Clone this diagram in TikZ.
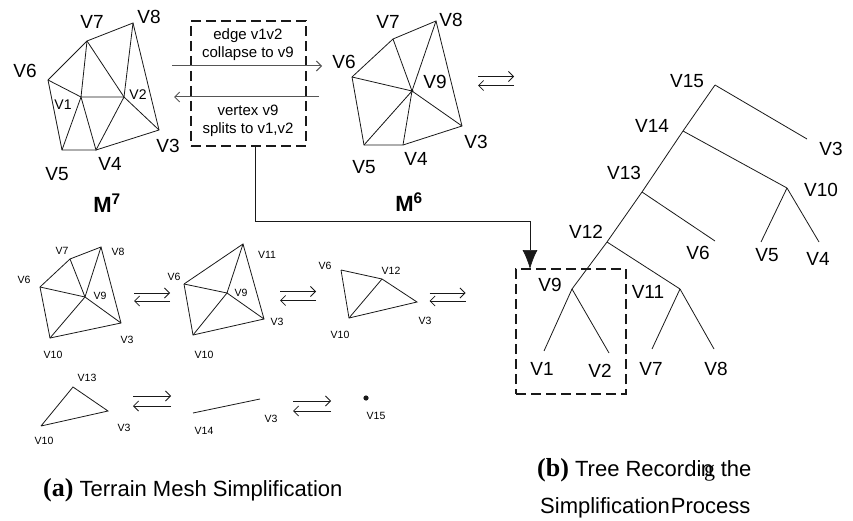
\documentclass[tikz,border=0pt]{standalone}
\usepackage{fontspec}
\setmainfont{Liberation Sans}
\newfontfamily\capserif{Liberation Serif}
\usetikzlibrary{arrows.meta,positioning}
\definecolor{inkline}{RGB}{25,25,25}
\definecolor{inkmut}{RGB}{85,85,85}
\newcommand{\capmark}[1]{{\capserif\bfseries\fontsize{26}{28}\selectfont (#1)}}
\begin{document}
\begin{tikzpicture}[x=1pt,y=1pt,font=\fontsize{19}{21}\selectfont,
  lb/.style={inner sep=0pt},
  lbs/.style={inner sep=0pt,font=\fontsize{10.5}{12}\selectfont},
  lbv/.style={inner sep=0pt,font=\fontsize{14}{17}\selectfont},
  lbm/.style={inner sep=0pt,font=\fontsize{15}{17.5}\selectfont,align=center},
  ttl/.style={inner sep=0pt,font=\fontsize{22}{24}\selectfont\bfseries},
  captxt/.style={inner sep=0pt,anchor=west,font=\fontsize{22}{24}\selectfont},
  mesh/.style={draw=inkline,line width=.8pt},
  dbox/.style={draw=inkline,line width=2.2pt,dash pattern=on 10pt off 5pt,minimum width=115pt,minimum height=125pt,inner sep=0pt},
  ed/.style={-{Latex[length=19pt,width=15pt]},draw=inkline,line width=.7pt},
  hb/.style={-{Straight Barb[length=5pt,width=10pt]},draw=inkline,line width=.8pt},
  hbg/.style={-{Straight Barb[length=5pt,width=10pt]},draw=inkmut,line width=1pt}]
\useasboundingbox (0,0) rectangle (853,520);
% mesh M7
\coordinate (a1) at (81,423); \coordinate (a2) at (124,423); \coordinate (a3) at (159,390);
\coordinate (a4) at (96,370); \coordinate (a5) at (62,370); \coordinate (a6) at (48,440);
\coordinate (a7) at (87,479); \coordinate (a8) at (133,497);
\draw[mesh] (a6) -- (a7) -- (a8) -- (a3) -- (a4) -- (a5) -- (a6);
\draw[mesh] (a6) -- (a1) -- (a2) -- (a3);
\draw[mesh] (a7) -- (a1); \draw[mesh] (a7) -- (a2); \draw[mesh] (a8) -- (a2);
\draw[mesh] (a2) -- (a4) -- (a1) -- (a5);
\node[lb] (la7) at (92,498) {V7};
\node[lb] (la8) at (149,503) {V8};
\node[lb] (la6) at (25,449) {V6};
\node[lbv] (la1) at (63,415) {V1};
\node[lbv] (la2) at (138,425) {V2};
\node[lb] (la3) at (168,374) {V3};
\node[lb] (la4) at (110,356) {V4};
\node[lb] (la5) at (57,346) {V5};
\node[ttl] (m7) at (107,317) {M\textsuperscript{7}};
% collapse box
\node[dbox] (bx) at (248.5,436.5) {};
\node[lbm] (tc) at (248,475.5) {edge v1v2\\collapse to v9};
\node[lbm] (ts) at (248,399) {vertex v9\\splits to v1,v2};
\coordinate (cl) at (172,454); \coordinate (cr) at (322,454);
\coordinate (sr) at (319,423); \coordinate (sl) at (174,423);
\draw[hbg] (cl) -- (cr);
\draw[hbg] (sr) -- (sl);
% mesh M6
\coordinate (b3) at (462,394); \coordinate (b4) at (403,375); \coordinate (b5) at (364,375);
\coordinate (b6) at (352,443); \coordinate (b7) at (393,481); \coordinate (b8) at (436,499);
\coordinate (b9) at (412,429);
\draw[mesh] (b6) -- (b7) -- (b8) -- (b3) -- (b4) -- (b5) -- (b6);
\draw[mesh] (b6) -- (b9) -- (b3); \draw[mesh] (b7) -- (b9) -- (b4); \draw[mesh] (b8) -- (b9) -- (b5);
\fill[inkline] (b9) circle (1.6pt);
\node[lb] (lb7) at (388,498) {V7};
\node[lb] (lb8) at (451,500) {V8};
\node[lb] (lb6) at (344,458) {V6};
\node[lb] (lb9) at (435,438) {V9};
\node[lb] (lb3) at (476,378) {V3};
\node[lb] (lb4) at (416,361) {V4};
\node[lb] (lb5) at (364,353) {V5};
\node[ttl] (m6) at (409,318) {M\textsuperscript{6}};
\coordinate (sw0) at (496,439);
\draw[hb] ([shift={(-18,4.5)}]sw0) -- ([shift={(18,4.5)}]sw0);
\draw[hb] ([shift={(18,-4.5)}]sw0) -- ([shift={(-18,-4.5)}]sw0);
% row 1
\coordinate (c3) at (121,197); \coordinate (c6) at (40,233); \coordinate (c7) at (70,261);
\coordinate (c8) at (101,273); \coordinate (c9) at (85,223); \coordinate (c10) at (50,182);
\draw[mesh] (c6) -- (c7) -- (c8) -- (c3) -- (c10) -- (c6);
\draw[mesh] (c6) -- (c9) -- (c3); \draw[mesh] (c7) -- (c9) -- (c10); \draw[mesh] (c8) -- (c9);
\node[lbs] (lc7) at (62,269) {V7};
\node[lbs] (lc8) at (118,268) {V8};
\node[lbs] (lc6) at (24,240) {V6};
\node[lbs] (lc9) at (100,224) {V9};
\node[lbs] (lc3) at (127,180) {V3};
\node[lbs] (lc10) at (53,165) {V10};
\coordinate (sw1) at (152,223);
\draw[hb] ([shift={(-18,4)}]sw1) -- ([shift={(18,4)}]sw1);
\draw[hb] ([shift={(18,-4)}]sw1) -- ([shift={(-18,-4)}]sw1);
\coordinate (d3) at (264,201); \coordinate (d6) at (184,236); \coordinate (d9) at (227,227);
\coordinate (d10) at (193,185); \coordinate (d11) at (243,276);
\draw[mesh] (d6) -- (d11) -- (d3) -- (d10) -- (d6);
\draw[mesh] (d6) -- (d9) -- (d3); \draw[mesh] (d11) -- (d9) -- (d10);
\node[lbs] (ld6) at (174,243) {V6};
\node[lbs] (ld9) at (241,227) {V9};
\node[lbs] (ld10) at (204,165) {V10};
\node[lbs] (ld11) at (267,265) {V11};
\node[lbs] (ld3) at (277,198) {V3};
\coordinate (sw2) at (298,224);
\draw[hb] ([shift={(-18,4.5)}]sw2) -- ([shift={(18,4.5)}]sw2);
\draw[hb] ([shift={(18,-4.5)}]sw2) -- ([shift={(-18,-4.5)}]sw2);
\coordinate (e3) at (417,218); \coordinate (e6) at (341,250); \coordinate (e10) at (349,202);
\coordinate (e12) at (382,241);
\draw[mesh] (e6) -- (e12) -- (e3) -- (e10) -- (e6);
\draw[mesh] (e10) -- (e12);
\node[lbs] (le6) at (325,254) {V6};
\node[lbs] (le12) at (391,249) {V12};
\node[lbs] (le3) at (425,199) {V3};
\node[lbs] (le10) at (340,185) {V10};
\coordinate (sw3) at (447.5,223);
\draw[hb] ([shift={(-18,4)}]sw3) -- ([shift={(18,4)}]sw3);
\draw[hb] ([shift={(18,-4)}]sw3) -- ([shift={(-18,-4)}]sw3);
% row 2
\coordinate (f3) at (108,109); \coordinate (f10) at (41,94); \coordinate (f13) at (73,133);
\draw[mesh] (f10) -- (f13) -- (f3) -- (f10);
\node[lbs] (lf13) at (87,142) {V13};
\node[lbs] (lf3) at (124,92) {V3};
\node[lbs] (lf10) at (44,79) {V10};
\coordinate (sw4) at (152,119);
\draw[hb] ([shift={(-19,5)}]sw4) -- ([shift={(19,5)}]sw4);
\draw[hb] ([shift={(19,-5)}]sw4) -- ([shift={(-19,-5)}]sw4);
\coordinate (g3) at (260,121); \coordinate (g14) at (193,107);
\draw[mesh] (g14) -- (g3);
\node[lbs] (lg14) at (204,89) {V14};
\node[lbs] (lg3) at (271,101) {V3};
\coordinate (sw5) at (312,114);
\draw[hb] ([shift={(-19,5)}]sw5) -- ([shift={(19,5)}]sw5);
\draw[hb] ([shift={(19,-5)}]sw5) -- ([shift={(-19,-5)}]sw5);
\coordinate (h15) at (366,122);
\fill[inkline] (h15) circle (2.6pt);
\node[lbs] (lh15) at (376,104) {V15};
\node[captxt] (capa) at (43,30) {\capmark{a} Terrain Mesh Simplification};
% tree
\coordinate (t1) at (544,169); \coordinate (t2) at (609,167); \coordinate (t3) at (807,381);
\coordinate (t4) at (819,278); \coordinate (t5) at (761,278); \coordinate (t6) at (715,279);
\coordinate (t7) at (652,171); \coordinate (t8) at (714,171); \coordinate (t9) at (572,231);
\coordinate (t10) at (787,332); \coordinate (t11) at (680,231); \coordinate (t12) at (607,278);
\coordinate (t13) at (642,328); \coordinate (t14) at (683,389); \coordinate (t15) at (715,435);
\draw[mesh] (t15) -- (t14) -- (t13) -- (t12) -- (t9);
\draw[mesh] (t15) -- (t3);
\draw[mesh] (t14) -- (t10); \draw[mesh] (t10) -- (t5); \draw[mesh] (t10) -- (t4);
\draw[mesh] (t13) -- (t6);
\draw[mesh] (t12) -- (t11); \draw[mesh] (t11) -- (t7); \draw[mesh] (t11) -- (t8);
\draw[mesh] (t9) -- (t1); \draw[mesh] (t9) -- (t2);
\node[lb] (lt15) at (687,439) {V15};
\node[lb] (lt14) at (652,394) {V14};
\node[lb] (lt13) at (624,347) {V13};
\node[lb] (lt12) at (586,288) {V12};
\node[lb] (lt3) at (831,371) {V3};
\node[lb] (lt10) at (821,330) {V10};
\node[lb] (lt6) at (698,267) {V6};
\node[lb] (lt5) at (767,265) {V5};
\node[lb] (lt4) at (818,261) {V4};
\node[lb] (lt9) at (550,235) {V9};
\node[lb] (lt11) at (648,228) {V11};
\node[lb] (lt1) at (542,151) {V1};
\node[lb] (lt2) at (600,149) {V2};
\node[lb] (lt7) at (651,151) {V7};
\node[lb] (lt8) at (716,151) {V8};
\node[dbox,minimum width=110pt] (bb) at (571,188.5) {};
% link from box to subtree
\coordinate (bxout) at (255,374); \coordinate (bend) at (530,299); \coordinate (tip) at (530,251);
\draw[ed] (bxout) |- (bend) -- (tip);
\node[captxt] (capb) at (537,50) {\capmark{b} Tree Recordi\kern-.5pt n\kern-9pt{\capserif g}\kern-.5pt\ the};
\node[captxt] (capc) at (540,12) {Simplification\kern-5pt\ Process};
\end{tikzpicture}
\end{document}
